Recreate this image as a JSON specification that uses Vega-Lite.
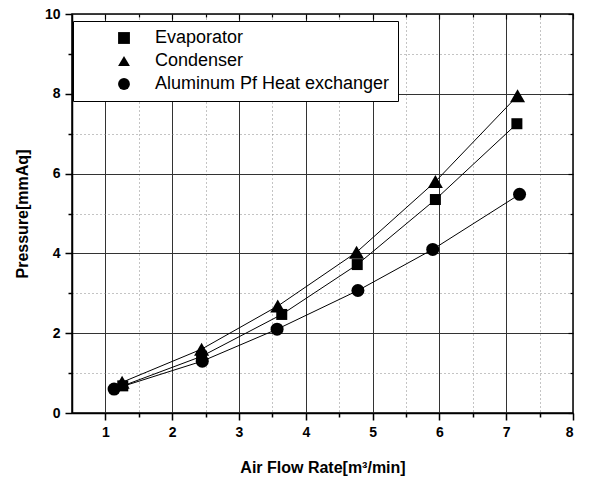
{
  "$schema": "https://vega.github.io/schema/vega-lite/v6.json",
  "width": 501,
  "height": 399,
  "autosize": {"type": "none"},
  "padding": {"left": 72, "top": 14, "right": 18, "bottom": 69},
  "background": "white",
  "config": {"view": {"stroke": "black", "strokeWidth": 1.5}, "font": "Liberation Sans"},
  "data": {"values": [
    {"series": "Evaporator", "flow": 1.26, "pressure": 0.68},
    {"series": "Evaporator", "flow": 2.44, "pressure": 1.42},
    {"series": "Evaporator", "flow": 3.64, "pressure": 2.47},
    {"series": "Evaporator", "flow": 4.77, "pressure": 3.72},
    {"series": "Evaporator", "flow": 5.94, "pressure": 5.35},
    {"series": "Evaporator", "flow": 7.16, "pressure": 7.25},
    {"series": "Condenser", "flow": 1.25, "pressure": 0.77},
    {"series": "Condenser", "flow": 2.44, "pressure": 1.6},
    {"series": "Condenser", "flow": 3.58, "pressure": 2.68},
    {"series": "Condenser", "flow": 4.76, "pressure": 4.03},
    {"series": "Condenser", "flow": 5.94, "pressure": 5.8},
    {"series": "Condenser", "flow": 7.17, "pressure": 7.95},
    {"series": "Aluminum Pf Heat exchanger", "flow": 1.13, "pressure": 0.6},
    {"series": "Aluminum Pf Heat exchanger", "flow": 2.45, "pressure": 1.3},
    {"series": "Aluminum Pf Heat exchanger", "flow": 3.57, "pressure": 2.1},
    {"series": "Aluminum Pf Heat exchanger", "flow": 4.78, "pressure": 3.07},
    {"series": "Aluminum Pf Heat exchanger", "flow": 5.9, "pressure": 4.1},
    {"series": "Aluminum Pf Heat exchanger", "flow": 7.2, "pressure": 5.48}
  ]},
  "resolve": {"axis": {"x": "independent", "y": "independent"}},
  "layer": [
    {
      "mark": {"type": "line", "color": "black", "strokeWidth": 1},
      "encoding": {
        "x": {"field": "flow", "type": "quantitative",
          "scale": {"domain": [0.5, 8], "nice": false, "zero": false},
          "axis": {
            "values": [1, 1.5, 2, 2.5, 3, 3.5, 4, 4.5, 5, 5.5, 6, 6.5, 7, 7.5, 8],
            "labelExpr": "datum.value % 1 === 0 ? '' + datum.value : ''",
            "grid": true,
            "gridColor": {"condition": {"test": "datum.value % 1 !== 0", "value": "#888888"}, "value": "#333333"},
            "gridDash": {"condition": {"test": "datum.value % 1 !== 0", "value": [1, 3]}, "value": []},
            "tickSize": {"condition": {"test": "datum.value % 1 !== 0", "value": 4}, "value": 7},
            "tickColor": "black", "tickWidth": 1.5, "domainColor": "black", "domainWidth": 1.5,
            "labelFont": "Liberation Sans", "labelFontWeight": "bold", "labelFontSize": 14, "labelColor": "black",
            "labelPadding": 5,
            "title": "Air Flow Rate[m³/min]", "titleFont": "Liberation Sans", "titleFontSize": 16,
            "titleFontWeight": "bold", "titleColor": "black", "titlePadding": 20
          }
        },
        "y": {"field": "pressure", "type": "quantitative",
          "scale": {"domain": [0, 10], "nice": false},
          "axis": {
            "values": [0, 1, 2, 3, 4, 5, 6, 7, 8, 9, 10],
            "labelExpr": "datum.value % 2 === 0 ? '' + datum.value : ''",
            "grid": true,
            "gridColor": {"condition": {"test": "datum.value % 2 !== 0", "value": "#888888"}, "value": "#333333"},
            "gridDash": {"condition": {"test": "datum.value % 2 !== 0", "value": [1, 3]}, "value": []},
            "tickSize": {"condition": {"test": "datum.value % 2 !== 0", "value": 4}, "value": 7},
            "tickColor": "black", "tickWidth": 1.5, "domainColor": "black", "domainWidth": 1.5,
            "labelFont": "Liberation Sans", "labelFontWeight": "bold", "labelFontSize": 14, "labelColor": "black",
            "labelPadding": 5,
            "title": "Pressure[mmAq]", "titleFont": "Liberation Sans", "titleFontSize": 16,
            "titleFontWeight": "bold", "titleColor": "black", "titlePadding": 14
          }
        },
        "detail": {"field": "series"}
      }
    },
    {
      "mark": {"type": "point", "filled": true, "color": "black", "opacity": 1},
      "encoding": {
        "x": {"field": "flow", "type": "quantitative",
          "axis": {"orient": "top", "values": [1, 1.5, 2, 2.5, 3, 3.5, 4, 4.5, 5, 5.5, 6, 6.5, 7, 7.5, 8],
            "labels": false, "title": null, "grid": false, "domain": false,
            "tickSize": {"condition": {"test": "datum.value % 1 !== 0", "value": -3}, "value": -5},
            "tickColor": "black", "tickWidth": 1.2}
        },
        "y": {"field": "pressure", "type": "quantitative",
          "axis": {"orient": "right", "values": [0, 1, 2, 3, 4, 5, 6, 7, 8, 9, 10],
            "labels": false, "title": null, "grid": false, "domain": false,
            "tickSize": {"condition": {"test": "datum.value % 2 !== 0", "value": -3}, "value": -5},
            "tickColor": "black", "tickWidth": 1.2}
        },
        "shape": {"field": "series", "type": "nominal",
          "scale": {"domain": ["Evaporator", "Condenser", "Aluminum Pf Heat exchanger"], "range": ["square", "triangle-up", "circle"]},
          "legend": {
            "orient": "none", "legendX": 1, "legendY": 7, "title": null,
            "fillColor": "white", "strokeColor": "black", "padding": 8,
            "labelFont": "Liberation Sans", "labelFontSize": 18, "labelColor": "black", "labelLimit": 400,
            "labelExpr": "datum.label + '   '",
            "symbolSize": 140, "symbolOffset": 34, "labelOffset": 22, "rowPadding": 5,
            "symbolStrokeWidth": 1, "symbolFillColor": "black", "symbolStrokeColor": "black", "symbolOpacity": 1
          }
        },
        "size": {"condition": [
          {"test": "datum.series === 'Condenser'", "value": 225},
          {"test": "datum.series === 'Aluminum Pf Heat exchanger'", "value": 169}
        ], "value": 121}
      }
    }
  ]
}
